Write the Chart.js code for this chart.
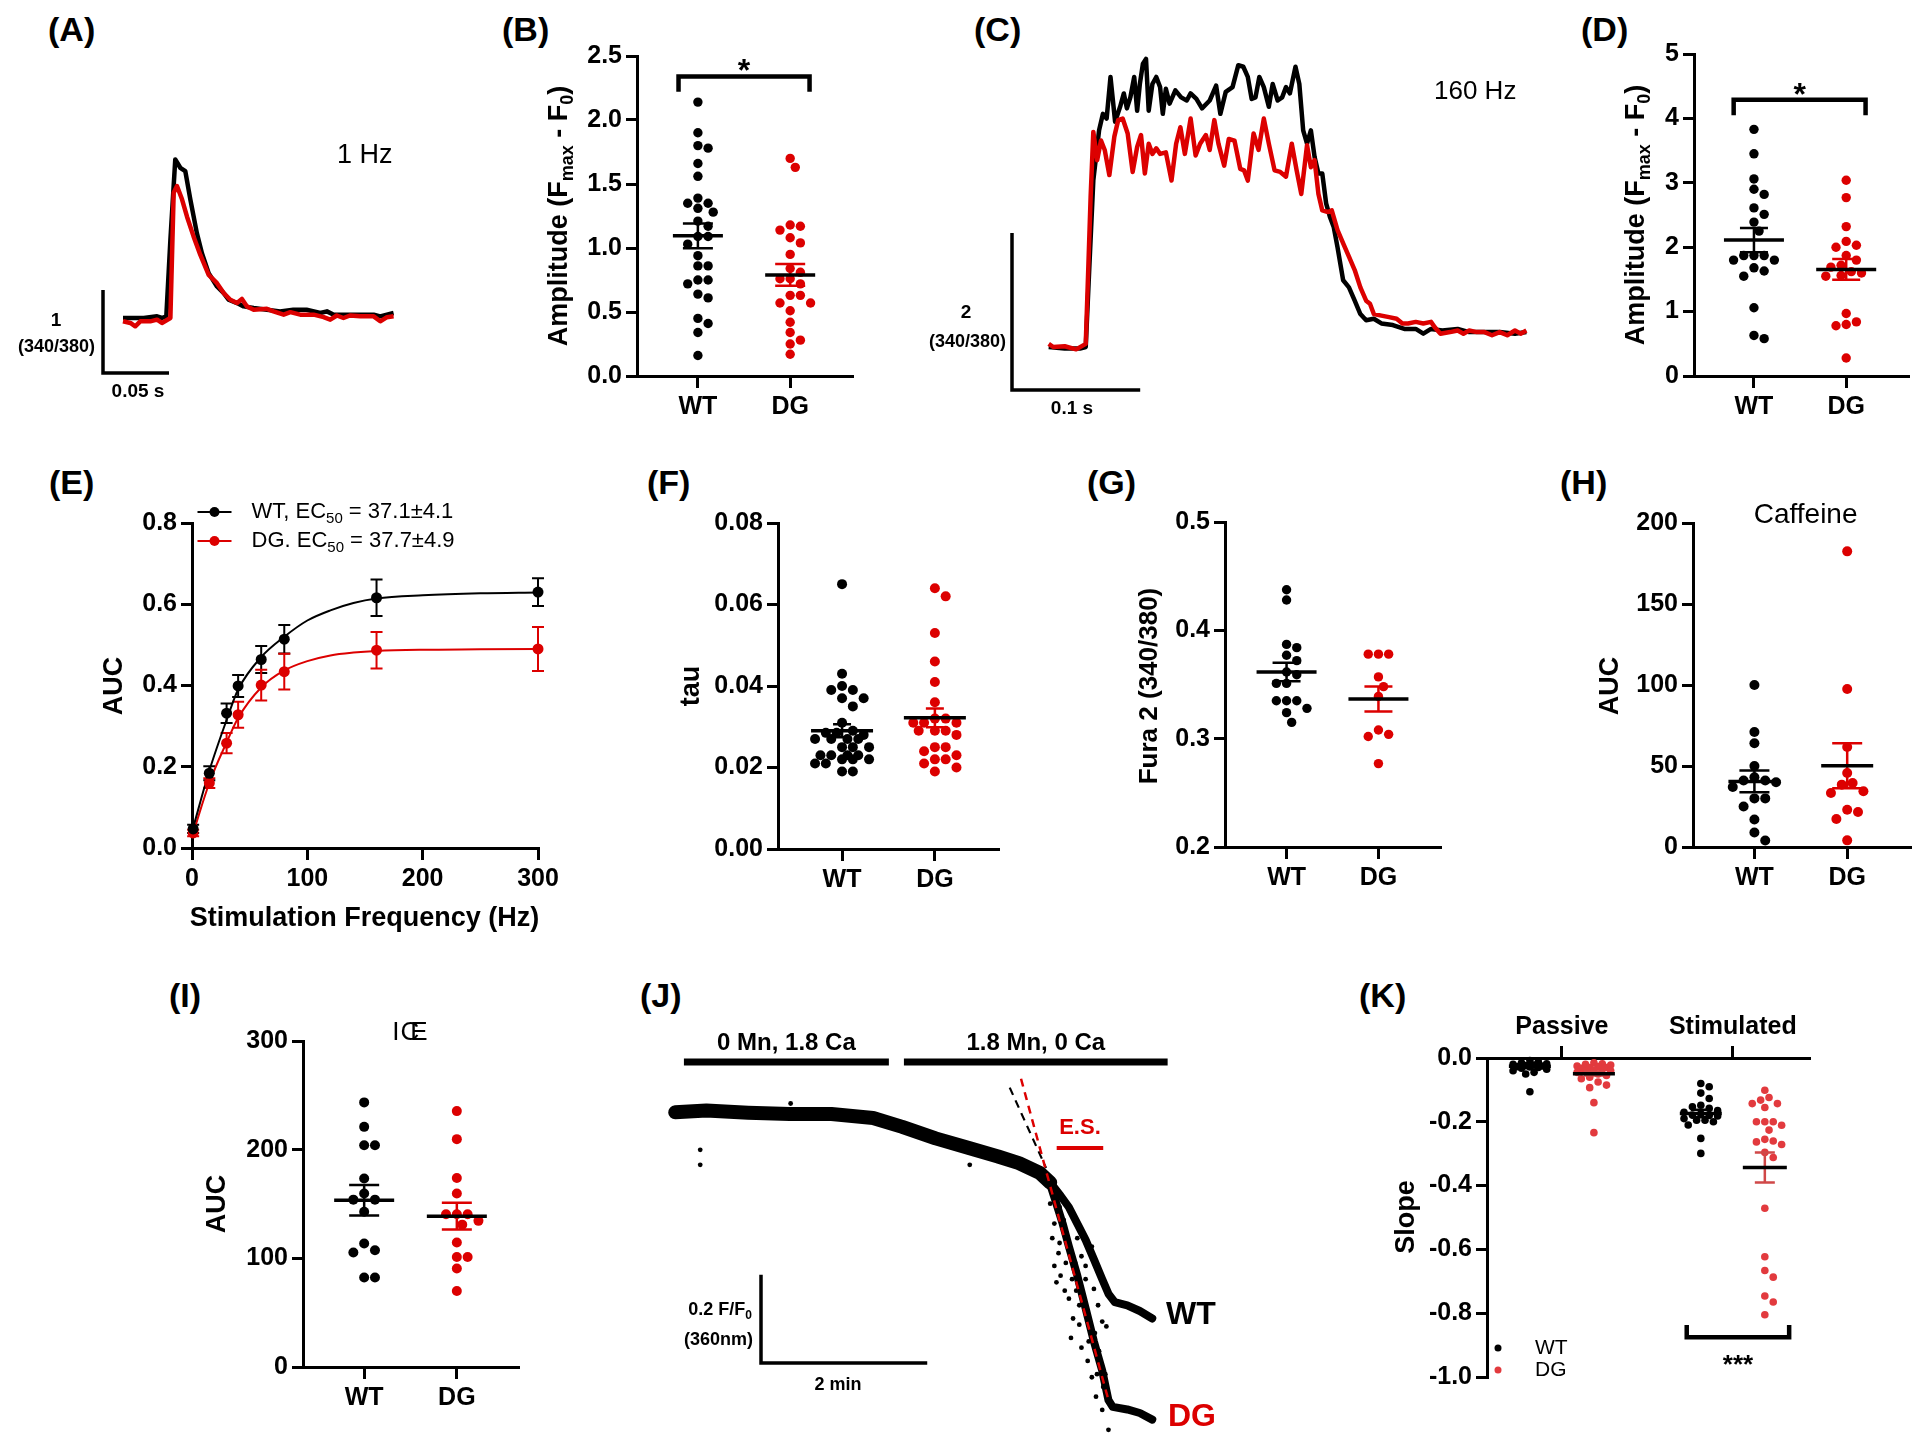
<!DOCTYPE html>
<html lang="en">
<head>
<meta charset="UTF-8">
<title>Calcium handling figure</title>
<script src="https://cdn.jsdelivr.net/npm/chart.js"></script>
<style>
  body { margin: 0; background: #fff; width: 1920px; height: 1446px; position: relative; overflow: hidden;
         font-family: "Liberation Sans", Arial, sans-serif; }
  canvas { position: absolute; }
  .lbl { position: absolute; font-weight: bold; font-size: 34px; line-height: 34px; color: #000; }
</style>
</head>
<body>
<div class="lbl" style="left:48px;top:12px">(A)</div>
<div class="lbl" style="left:502px;top:12px">(B)</div>
<div class="lbl" style="left:974px;top:12px">(C)</div>
<div class="lbl" style="left:1581px;top:12px">(D)</div>
<div class="lbl" style="left:49px;top:465px">(E)</div>
<div class="lbl" style="left:647px;top:465px">(F)</div>
<div class="lbl" style="left:1087px;top:465px">(G)</div>
<div class="lbl" style="left:1560px;top:465px">(H)</div>
<div class="lbl" style="left:169px;top:978px">(I)</div>
<div class="lbl" style="left:640px;top:978px">(J)</div>
<div class="lbl" style="left:1359px;top:978px">(K)</div>

<canvas id="cA"></canvas><canvas id="cB"></canvas><canvas id="cC"></canvas><canvas id="cD"></canvas>
<canvas id="cE"></canvas><canvas id="cF"></canvas><canvas id="cG"></canvas><canvas id="cH"></canvas>
<canvas id="cI"></canvas><canvas id="cJ"></canvas><canvas id="cK"></canvas>

<script>
// ---- data ----
// (A) 1 Hz transient, time (ms) and ratio above baseline (340/380)
const aWtT = [0,6.8,15.7,25.8,29.5,32.8,35.9,39.6,43.4,47.2,51,56,59.8,64.9,71.2,76.3,80,86.4,91.4,99,109,119,129,139,149.5,154.5,159.6,169.7,179.8,189.9,194.9,205];
const aWtV = [0,0,0,0.02,0,0.02,0.94,1.91,1.81,1.77,1.43,1.02,0.78,0.54,0.38,0.30,0.22,0.18,0.14,0.12,0.10,0.08,0.10,0.10,0.06,0.08,0.04,0.04,0.04,0.04,0.02,0.06];
const aDgT = [0,5.6,9.3,13.1,20.7,25.8,29.5,35.9,38.4,40.9,44.7,48.5,53.5,58.6,64.9,71.2,76.3,81.3,86.4,90.1,93.9,99,109,114,121.7,126.8,134.3,144.4,152,157,162,167,172,179.8,189.9,194.9,200,205];
const aDgV = [-0.04,-0.06,-0.10,-0.04,-0.04,-0.02,-0.06,0,1.51,1.59,1.43,1.22,0.98,0.76,0.52,0.42,0.30,0.22,0.18,0.23,0.14,0.10,0.11,0.08,0.04,0.07,0.04,0.04,0.01,-0.02,0.03,0,0.03,0.02,0.02,-0.04,0.01,0.02];
const aScale = {t: 50, v: 1};

// (B) amplitude at 1 Hz
const bWT = [2.14,1.90,1.80,1.78,1.66,1.56,1.39,1.35,1.35,1.31,1.28,1.21,1.17,1.09,1.09,1.03,0.94,0.86,0.86,0.75,0.75,0.72,0.64,0.61,0.45,0.41,0.34,0.16];
const bDG = [1.70,1.63,1.18,1.17,1.14,1.08,1.04,0.95,0.84,0.81,0.76,0.76,0.72,0.63,0.63,0.57,0.57,0.51,0.42,0.34,0.28,0.25,0.17];
const bMean = [1.095, 0.79], bSem = [0.097, 0.085];

// (C) 160 Hz transient
const cWtT = [0,12.5,24.4,28.9,31.8,34.8,39.3,42.3,45.2,48.2,51.8,55.7,58.6,61.0,63.7,66.7,69.0,71.1,73.5,75.9,78.0,80.9,83.9,86.9,89.0,91.4,94.3,98.8,103.3,107.7,110.7,115.2,119.6,125.6,130.6,133.9,138.1,143.4,147.9,151.8,155.3,158.3,161.3,164.3,167.8,171.7,174.7,178.6,182.1,185.1,188.1,192.5,195.5,198.5,201.5,204.5,207.4,210.4,213.4,216.4,219.3,222.3,225.3,229.7,234.2,238.7,243.1,247.6,253.6,259.5,268.4,277.4,286.3,292.2,298.2,307.1,319.0,328.0,339.9,351.8,363.7,372.6];
const cWtV = [0,-0.02,-0.02,0,1.06,2.12,2.76,2.97,2.91,3.44,2.87,3.06,3.23,3.04,3.18,3.44,3.01,3.35,3.61,3.67,3.01,3.35,3.44,3.31,2.97,3.29,3.10,3.27,3.18,3.14,3.23,3.16,3.04,3.14,3.33,2.97,3.25,3.31,3.59,3.57,3.44,3.16,3.18,3.44,3.31,3.06,3.35,3.14,3.18,3.31,3.23,3.57,3.35,2.76,2.59,2.76,2.42,2.21,2.21,1.83,1.66,1.53,1.27,0.85,0.76,0.59,0.42,0.34,0.36,0.30,0.28,0.23,0.23,0.17,0.23,0.21,0.23,0.19,0.19,0.19,0.17,0.19];
const cDgT = [0,3.6,12.5,21.4,28.9,31.0,32.7,34.8,37.8,40.8,43.7,47.3,51.2,54.2,57.7,61.6,65.5,69.0,72.0,75.0,78.0,80.9,83.9,86.9,91.4,95.8,99.4,102.7,106.2,110.7,114.6,118.1,122.6,125.6,129.2,132.4,136.9,140.5,144.9,149.4,152.4,155.3,159.8,163.7,167.8,171.7,176.2,180.6,185.1,189.6,193.4,197.0,201.5,204.5,207.4,210.4,213.4,217.8,220.8,225.3,229.7,234.2,238.7,243.1,247.6,250.6,253.6,259.5,265.5,271.4,275.9,280.3,286.3,292.2,298.2,301.2,305.6,313.1,319.0,323.5,328.0,333.9,339.9,345.8,351.8,357.7,363.7,368.1,372.6];
const cDgV = [0.04,0,0.01,-0.03,0.04,1.06,1.91,2.74,2.38,2.63,2.51,2.19,2.68,2.89,2.91,2.72,2.23,2.55,2.70,2.21,2.59,2.46,2.53,2.46,2.48,2.12,2.59,2.80,2.46,2.91,2.44,2.59,2.70,2.51,2.89,2.59,2.31,2.65,2.63,2.27,2.25,2.12,2.72,2.51,2.91,2.59,2.25,2.23,2.17,2.59,2.25,1.95,2.57,2.29,2.38,1.95,1.74,1.72,1.74,1.49,1.32,1.15,0.98,0.76,0.59,0.55,0.42,0.40,0.38,0.36,0.30,0.30,0.32,0.30,0.32,0.25,0.17,0.19,0.21,0.17,0.21,0.19,0.19,0.15,0.19,0.15,0.21,0.17,0.21];
const cScale = {t: 100, v: 2};

// (D) amplitude at 160 Hz
const dWT = [3.83,3.45,3.06,2.90,2.82,2.61,2.51,2.39,2.25,1.87,1.87,1.87,1.80,1.80,1.68,1.63,1.55,1.06,0.63,0.58];
const dDG = [3.04,2.77,2.32,2.09,2.03,2.00,1.87,1.80,1.72,1.69,1.62,1.60,1.56,1.55,0.97,0.84,0.80,0.78,0.28];
const dMean = [2.11, 1.655], dSem = [0.19, 0.16];

// (E) AUC vs stimulation frequency
const eFreq = [1,15,30,40,60,80,160,300];
const eWT = [0.047,0.184,0.332,0.399,0.464,0.514,0.616,0.630];
const eWTerr = [0.010,0.017,0.024,0.027,0.033,0.035,0.045,0.034];
const eDG = [0.037,0.160,0.258,0.328,0.401,0.434,0.487,0.490];
const eDGerr = [0.008,0.012,0.025,0.032,0.038,0.044,0.045,0.054];
const eFitFreq = [1,15,30,40,60,80,100,120,140,160,200,250,300];
const eFitWT = [0.05,0.19,0.315,0.39,0.47,0.52,0.56,0.585,0.603,0.614,0.622,0.627,0.629];
const eFitDG = [0.037,0.16,0.26,0.32,0.395,0.437,0.46,0.474,0.481,0.485,0.488,0.489,0.49];

// (F) tau
const fWT = [0.065,0.043,0.040,0.039,0.039,0.037,0.037,0.035,0.031,0.029,0.0285,0.0285,0.028,0.027,0.027,0.027,0.027,0.025,0.025,0.025,0.023,0.023,0.023,0.023,0.022,0.022,0.022,0.021,0.021,0.019,0.019];
const fDG = [0.064,0.062,0.053,0.046,0.041,0.036,0.032,0.032,0.031,0.031,0.031,0.029,0.029,0.029,0.028,0.025,0.025,0.024,0.023,0.022,0.022,0.021,0.020,0.019];
const fMean = [0.029, 0.0322], fSem = [0.0016, 0.0023];

// (G) resting Fura 2
const gWT = [0.4375,0.428,0.387,0.384,0.377,0.372,0.3615,0.359,0.351,0.351,0.335,0.335,0.335,0.328,0.324,0.315];
const gDG = [0.378,0.378,0.378,0.357,0.348,0.339,0.308,0.304,0.302,0.277];
const gMean = [0.3615, 0.3366], gSem = [0.0085, 0.0115];

// (H) caffeine AUC
const hWT = [100,71,64,50,43,41,41,40,37,30,30,25,17,9,4];
const hDG = [182.5,97.5,61.7,45.7,39.5,38.5,34.4,33.3,23.0,21.6,17.3,4.1];
const hMean = [40.5, 50.2], hSem = [6.7, 13.9];

// (I) ICE AUC
const iWT = [243.5,221,204,204,173.5,159.6,154,154,142.8,113.6,107.5,105.3,82.3,82.3];
const iDG = [235.5,209.7,174,159.6,140.6,140.6,140.6,134.5,131,114.5,101.3,101.3,90.6,70];
const iMean = [153.5, 138.8], iSem = [14, 12.3];

// (J) Mn quench trace, time (min) and F/F0 (360 nm)
const jBaseT = [0,0.376,0.877,1.379,1.880,2.381,2.732,3.133,3.534,3.885,4.136,4.386,4.512];
const jBaseF = [1.000,1.004,0.999,0.996,0.996,0.987,0.967,0.941,0.919,0.900,0.885,0.863,0.841];
const jWtT = [4.512,4.637,4.737,4.838,4.938,5.038,5.138,5.213,5.289,5.439,5.590,5.740];
const jWtF = [0.841,0.811,0.785,0.748,0.711,0.667,0.622,0.589,0.570,0.563,0.550,0.533];
const jDgT = [4.512,4.587,4.662,4.737,4.838,4.938,5.038,5.138,5.213,5.264,5.439,5.590,5.740];
const jDgF = [0.837,0.793,0.748,0.696,0.630,0.556,0.481,0.415,0.348,0.333,0.327,0.319,0.304];
const jDotT = [0.301,0.301,1.389,3.544,4.512,4.562,4.537,4.612,4.562,4.637,4.587,4.687,4.737,4.787,4.862,4.762,4.888,4.963,5.013,5.063,5.138,5.213,5.013,4.938,4.888,5.038,5.088,5.138,5.188,4.838,4.938,4.812,4.862,
               4.625,4.675,4.625,4.700,4.775,4.825,4.900,4.975,5.050,5.100,5.175,5.150,5.225,4.975,5.075];
const jDotF = [0.915,0.881,1.020,0.881,0.793,0.748,0.715,0.681,0.652,0.630,0.615,0.596,0.578,0.533,0.519,0.489,0.467,0.437,0.400,0.356,0.326,0.281,0.696,0.652,0.674,0.600,0.563,0.526,0.515,0.715,0.622,0.659,0.563,
               0.785,0.756,0.704,0.659,0.622,0.596,0.578,0.537,0.500,0.459,0.407,0.378,0.341,0.481,0.407];
const jFitWtT = [4.025, 4.462], jFitWtF = [1.056, 0.874];
const jFitDgT = [4.161, 5.213], jFitDgF = [1.076, 0.348];
const jProtoLabels = ['0 Mn, 1.8 Ca', '1.8 Mn, 0 Ca'];
const jProtoStart = [0.105, 2.752], jProtoEnd = [2.571, 5.925];
const jEsStart = 4.59, jEsEnd = 5.15;
const jScale = {t: 2, v: 0.2};

// (K) quench slope
const kGroups = ['Passive', 'Stimulated'];
const kPassWT = [-0.008,-0.012,-0.015,-0.018,-0.02,-0.022,-0.024,-0.025,-0.027,-0.028,-0.03,-0.032,-0.035,-0.04,-0.045,-0.05,-0.106];
const kPassDG = [-0.015,-0.018,-0.02,-0.022,-0.025,-0.027,-0.03,-0.03,-0.032,-0.035,-0.038,-0.04,-0.042,-0.045,-0.05,-0.055,-0.06,-0.065,-0.075,-0.085,-0.093,-0.14,-0.234];
const kStimWT = [-0.08,-0.09,-0.11,-0.127,-0.148,-0.153,-0.158,-0.165,-0.17,-0.175,-0.179,-0.18,-0.182,-0.19,-0.195,-0.195,-0.2,-0.21,-0.252,-0.299];
const kStimDG = [-0.101,-0.124,-0.132,-0.143,-0.143,-0.155,-0.2,-0.2,-0.2,-0.211,-0.226,-0.255,-0.26,-0.263,-0.271,-0.296,-0.312,-0.471,-0.623,-0.666,-0.687,-0.746,-0.765,-0.805];
const kMean = [-0.026, -0.049, -0.174, -0.343], kSem = [0.004, 0.006, 0.012, 0.047];

const cats = ['WT', 'DG'];

// ---- drawing ----
const FONT = '"Liberation Sans", Arial, Helvetica, sans-serif';
const BLK = '#000000', RED = '#dc0000', KRED = '#e23a3e';
const TICK = 25, TITLE = 27;
Chart.defaults.font.family = FONT;
Chart.defaults.color = '#000';

function rich(ctx, segs, x, y, size, weight, align, color, rot) {
  const fnt = sub => `${weight} ${sub ? Math.round(size * 0.68) : size}px ${FONT}`;
  let total = 0;
  segs.forEach(s => { ctx.font = fnt(s[1]); total += ctx.measureText(s[0]).width + (s[2] || 0); });
  ctx.save();
  ctx.translate(x, y);
  if (rot) ctx.rotate(-Math.PI / 2);
  let cx = align === 'center' ? -total / 2 : align === 'right' ? -total : 0;
  ctx.fillStyle = color; ctx.textAlign = 'left'; ctx.textBaseline = 'middle';
  segs.forEach(s => {
    ctx.font = fnt(s[1]);
    ctx.fillText(s[0], cx, s[1] ? size * 0.3 : 0);
    cx += ctx.measureText(s[0]).width + (s[2] || 0);
  });
  ctx.restore();
}

const annot = {
  id: 'annot',
  beforeDatasetsDraw(chart, a, o) {
    const ctx = chart.ctx, X = chart.scales.x, Y = chart.scales.y;
    (o.errbars || []).forEach(e => {
      ctx.save(); ctx.strokeStyle = e.color; ctx.lineWidth = e.w;
      e.x.forEach((xv, i) => {
        const px = X.getPixelForValue(xv), t = Y.getPixelForValue(e.y[i] + e.err[i]), b = Y.getPixelForValue(e.y[i] - e.err[i]);
        ctx.beginPath();
        ctx.moveTo(px, t); ctx.lineTo(px, b);
        ctx.moveTo(px - e.cap, t); ctx.lineTo(px + e.cap, t);
        ctx.moveTo(px - e.cap, b); ctx.lineTo(px + e.cap, b);
        ctx.stroke();
      });
      ctx.restore();
    });
  },
  afterDatasetsDraw(chart, a, o) {
    const ctx = chart.ctx, X = chart.scales.x, Y = chart.scales.y, ox = o.ox || 0, oy = o.oy || 0;
    ctx.save();
    ctx.lineCap = 'butt';
    (o.means || []).forEach(g => {
      const cx = X.getPixelForValue(g.x), ym = Y.getPixelForValue(g.mean);
      const yt = Y.getPixelForValue(g.mean + g.sem), yb = Y.getPixelForValue(g.mean - g.sem);
      ctx.strokeStyle = g.semColor; ctx.lineWidth = 2.5;
      ctx.beginPath();
      ctx.moveTo(cx, yt); ctx.lineTo(cx, yb);
      ctx.moveTo(cx - g.cap, yt); ctx.lineTo(cx + g.cap, yt);
      ctx.moveTo(cx - g.cap, yb); ctx.lineTo(cx + g.cap, yb);
      ctx.stroke();
      ctx.strokeStyle = BLK; ctx.lineWidth = 3.5;
      ctx.beginPath(); ctx.moveTo(cx - g.half, ym); ctx.lineTo(cx + g.half, ym); ctx.stroke();
    });
    if (o.bracket) {
      const b = o.bracket;
      const x0 = X.getPixelForValue(b.x0), x1 = X.getPixelForValue(b.x1);
      const y = Y.getPixelForValue(b.y), yl = Y.getPixelForValue(b.leg);
      ctx.strokeStyle = BLK; ctx.lineWidth = b.w; ctx.lineJoin = 'miter';
      ctx.beginPath(); ctx.moveTo(x0, yl); ctx.lineTo(x0, y); ctx.lineTo(x1, y); ctx.lineTo(x1, yl); ctx.stroke();
      ctx.fillStyle = BLK; ctx.font = `bold ${b.size}px ${FONT}`;
      ctx.textAlign = 'center'; ctx.textBaseline = 'alphabetic';
      ctx.fillText(b.star, (x0 + x1) / 2, Y.getPixelForValue(b.starY) + 0.58 * b.size);
    }
    (o.scalebars || []).forEach(s => {
      const x = s.x - ox, y = s.y - oy;
      const dx = X.getPixelForValue(s.dt) - X.getPixelForValue(0);
      const dy = Y.getPixelForValue(0) - Y.getPixelForValue(s.dv);
      ctx.strokeStyle = BLK; ctx.lineWidth = s.w; ctx.lineJoin = 'miter';
      ctx.beginPath(); ctx.moveTo(x, y - dy); ctx.lineTo(x, y); ctx.lineTo(x + dx, y); ctx.stroke();
    });
    (o.hbars || []).forEach(h => {
      const x0 = X.getPixelForValue(h.t0), x1 = X.getPixelForValue(h.t1), y = h.y - oy;
      ctx.strokeStyle = h.color; ctx.lineWidth = h.w;
      ctx.beginPath(); ctx.moveTo(x0, y); ctx.lineTo(x1, y); ctx.stroke();
      if (h.label) rich(ctx, [[h.label]], (x0 + x1) / 2, h.ly - oy, h.size, 'bold', 'center', h.color);
    });
    (o.legend || []).forEach(l => {
      const x = l.x - ox, y = l.y - oy;
      if (l.line) {
        ctx.strokeStyle = l.color; ctx.lineWidth = 2;
        ctx.beginPath(); ctx.moveTo(x - 17, y); ctx.lineTo(x + 17, y); ctx.stroke();
      }
      ctx.fillStyle = l.color;
      ctx.beginPath(); ctx.arc(x, y, l.r, 0, 2 * Math.PI); ctx.fill();
      rich(ctx, l.segs, x + l.gap, y, l.size, 'normal', 'left', BLK);
    });
    (o.texts || []).forEach(t => rich(ctx, t.segs, t.x - ox, t.y - oy, t.size, t.weight || 'bold', t.align || 'left', t.color || BLK, t.rot));
    ctx.restore();
  }
};
Chart.register(annot);

const GRID = {drawOnChartArea: false, drawTicks: true, tickLength: 11, tickWidth: 3, tickColor: BLK, lineWidth: 3, color: BLK};
const BORDER = {display: true, color: BLK, width: 3};

function mk(id, box, m, cfg, topAxis) {
  const c = document.getElementById(id);
  const W = Math.round(box.x1 - box.x0 + m.l + m.r), H = Math.round(box.y1 - box.y0 + m.t + m.b);
  c.width = W; c.height = H;
  Object.assign(c.style, {left: (box.x0 - m.l) + 'px', top: (box.y0 - m.t) + 'px', width: W + 'px', height: H + 'px'});
  cfg.options = Object.assign({
    responsive: false, animation: false, events: [],
    layout: {padding: topAxis ? {top: 0, right: m.r, bottom: m.b, left: 0} : {top: m.t, right: m.r, bottom: 0, left: 0}}
  }, cfg.options);
  const p = cfg.options.plugins = Object.assign({legend: {display: false}, tooltip: {enabled: false}}, cfg.options.plugins);
  p.annot = Object.assign({ox: box.x0 - m.l, oy: box.y0 - m.t}, p.annot);
  return new Chart(c, cfg);
}

function yLin(min, max, step, fmt, w) {
  return {type: 'linear', position: 'left', min, max,
    afterFit: s => { s.width = w; },
    ticks: {stepSize: step, font: {size: TICK, weight: 'bold'}, color: BLK, padding: 4, callback: v => fmt(v)},
    grid: GRID, border: BORDER};
}
function xLin(min, max, step, fmt, h) {
  return {type: 'linear', position: 'bottom', min, max,
    afterFit: s => { s.height = h; },
    ticks: {stepSize: step, font: {size: TICK, weight: 'bold'}, color: BLK, padding: 4, maxRotation: 0, callback: v => fmt(v)},
    grid: Object.assign({}, GRID, {tickLength: 12}), border: BORDER};
}
function xCat(min, max, pos, labels, h, position) {
  return {type: 'linear', position, min, max,
    afterFit: s => { s.height = h; },
    afterBuildTicks: s => { s.ticks = pos.map(v => ({value: v})); },
    ticks: {font: {size: TICK, weight: 'bold'}, color: BLK, padding: 4, autoSkip: false, maxRotation: 0, callback: (v, i) => labels[i]},
    grid: Object.assign({}, GRID, {tickLength: 12}), border: BORDER};
}
const hidden = (min, max) => ({type: 'linear', display: false, min, max});

// beeswarm placement of dots, computed from the values
function swarm(vals, center, box, ymin, ymax, xmin, xmax, diam, maxOff) {
  const py = (box.y1 - box.y0) / (ymax - ymin), px = (box.x1 - box.x0) / (xmax - xmin);
  const order = vals.map((v, i) => i).sort((a, b) => vals[b] - vals[a]);
  const placed = [], xs = new Array(vals.length);
  order.forEach(i => {
    const y = vals[i] * py;
    let best = 0, bestD = -1;
    for (let k = 0; k <= 60; k++) {
      const off = (k % 2 ? 1 : -1) * Math.ceil(k / 2) * diam * 0.5;
      if (Math.abs(off) > maxOff) continue;
      let dmin = Infinity;
      placed.forEach(p => { dmin = Math.min(dmin, Math.hypot(p.x - off, p.y - y)); });
      if (dmin >= diam) { best = off; break; }
      if (dmin > bestD) { bestD = dmin; best = off; }
    }
    placed.push({x: best, y});
    xs[i] = center + best / px;
  });
  return xs;
}

function dots(id, P) {
  const ds = P.groups.map((g, k) => {
    const xs = swarm(g.vals, P.pos[k], P.box, P.y[0], P.y[1], P.x[0], P.x[1], 2 * g.r + 0.8, g.spread);
    return {data: g.vals.map((v, i) => ({x: xs[i], y: v})), pointRadius: g.r,
            pointBackgroundColor: g.color, pointBorderWidth: 0, clip: false};
  });
  return mk(id, P.box, P.m, {
    type: 'scatter', data: {datasets: ds},
    options: {
      scales: {
        x: xCat(P.x[0], P.x[1], P.ticks || P.pos, P.labels, P.top ? P.m.t : P.m.b, P.top ? 'top' : 'bottom'),
        y: yLin(P.y[0], P.y[1], P.y[2], P.fmt, P.m.l)
      },
      plugins: {annot: Object.assign({
        means: P.groups.map((g, k) => ({x: P.pos[k], mean: g.mean, sem: g.sem, semColor: g.semColor, half: g.half, cap: g.cap}))
      }, P.annot)}
    }
  }, P.top);
}
const pts = (xs, ys) => xs.map((x, i) => ({x, y: ys[i]}));
const trace = (xs, ys, color, w, extra) => Object.assign({data: pts(xs, ys), showLine: true, pointRadius: 0,
  borderColor: color, borderWidth: w, borderJoinStyle: 'round', clip: false}, extra || {});
const amp = [['Amplitude (F'], ['max', 1], [' - F'], ['0', 1], [')']];
const M = {l: 125, r: 30, t: 45, b: 60};
const f1 = v => v.toFixed(1), f2 = v => v.toFixed(2), f0 = v => String(Math.round(v));

// (A)
mk('cA', {x0: 0, x1: 420, y0: 120, y1: 420}, {l: 0, r: 0, t: 0, b: 0}, {
  type: 'scatter',
  data: {datasets: [trace(aDgT, aDgV, RED, 4.5), trace(aWtT, aWtV, BLK, 4.5)]},
  options: {
    scales: {x: hidden((0 - 123) / 1.32, (420 - 123) / 1.32), y: hidden(-(420 - 318) / 83, (318 - 120) / 83)},
    plugins: {annot: {
      scalebars: [{x: 103, y: 373, dt: aScale.t, dv: aScale.v, w: 3.5}],
      texts: [
        {segs: [['1']], x: 56, y: 321, size: 19, align: 'center'},
        {segs: [['(340/380)']], x: 95, y: 347, size: 18, align: 'right'},
        {segs: [['0.05 s']], x: 138, y: 392, size: 19, align: 'center'},
        {segs: [['1 Hz']], x: 337, y: 156, size: 27, weight: 'normal'}
      ]}}
  }
});

// (B)
dots('cB', {box: {x0: 637, x1: 852, y0: 56, y1: 376}, m: M, x: [0.34, 2.67], pos: [1, 2], labels: cats,
  y: [0, 2.5, 0.5], fmt: f1,
  groups: [
    {vals: bWT, color: BLK, r: 4.7, spread: 26, mean: bMean[0], sem: bSem[0], semColor: BLK, half: 25, cap: 15},
    {vals: bDG, color: RED, r: 4.7, spread: 26, mean: bMean[1], sem: bSem[1], semColor: RED, half: 25, cap: 15}],
  annot: {bracket: {x0: 0.79, x1: 2.21, y: 2.34, leg: 2.22, star: '*', starY: 2.45, size: 32, w: 4.5},
          texts: [{segs: amp, x: 560, y: 216, size: TITLE, align: 'center', rot: true}]}
});

// (C)
mk('cC', {x0: 900, x1: 1560, y0: 40, y1: 430}, {l: 0, r: 0, t: 0, b: 0}, {
  type: 'scatter',
  data: {datasets: [trace(cDgT, cDgV, RED, 4.5), trace(cWtT, cWtV, BLK, 4.5)]},
  options: {
    scales: {x: hidden((900 - 1048.7) / 1.282, (1560 - 1048.7) / 1.282), y: hidden(-(430 - 347) / 78.5, (347 - 40) / 78.5)},
    plugins: {annot: {
      scalebars: [{x: 1012, y: 390, dt: cScale.t, dv: cScale.v, w: 3.5}],
      texts: [
        {segs: [['2']], x: 966, y: 313, size: 19, align: 'center'},
        {segs: [['(340/380)']], x: 1006, y: 342, size: 18, align: 'right'},
        {segs: [['0.1 s']], x: 1072, y: 409, size: 19, align: 'center'},
        {segs: [['160 Hz']], x: 1434, y: 92, size: 26, weight: 'normal'}
      ]}}
  }
});

// (D)
dots('cD', {box: {x0: 1694, x1: 1908, y0: 54, y1: 376}, m: M, x: [0.35, 2.67], pos: [1, 2], labels: cats,
  y: [0, 5, 1], fmt: f0,
  groups: [
    {vals: dWT, color: BLK, r: 4.7, spread: 26, mean: dMean[0], sem: dSem[0], semColor: BLK, half: 30, cap: 14},
    {vals: dDG, color: RED, r: 4.7, spread: 26, mean: dMean[1], sem: dSem[1], semColor: RED, half: 30, cap: 14}],
  annot: {bracket: {x0: 0.78, x1: 2.21, y: 4.29, leg: 4.05, star: '*', starY: 4.49, size: 32, w: 4.5},
          texts: [{segs: amp, x: 1637, y: 215, size: TITLE, align: 'center', rot: true}]}
});

// (E)
mk('cE', {x0: 191.5, x1: 537.6, y0: 523, y1: 848}, {l: 125, r: 40, t: 60, b: 100}, {
  type: 'scatter',
  data: {datasets: [
    {data: pts(eFreq, eWT), pointRadius: 5.5, pointBackgroundColor: BLK, pointBorderWidth: 0, clip: false},
    {data: pts(eFreq, eDG), pointRadius: 5.5, pointBackgroundColor: RED, pointBorderWidth: 0, clip: false},
    trace(eFitFreq, eFitWT, BLK, 2, {cubicInterpolationMode: 'monotone'}),
    trace(eFitFreq, eFitDG, RED, 2, {cubicInterpolationMode: 'monotone'})
  ]},
  options: {
    scales: {x: xLin(0, 300, 100, f0, 100), y: yLin(0, 0.8, 0.2, f1, 125)},
    plugins: {annot: {
      errbars: [{x: eFreq, y: eWT, err: eWTerr, color: BLK, cap: 6, w: 2},
                {x: eFreq, y: eDG, err: eDGerr, color: RED, cap: 6, w: 2}],
      legend: [
        {x: 214, y: 512, color: BLK, r: 5, line: true, gap: 37, size: 22, segs: [['WT, EC'], ['50', 1], [' = 37.1±4.1']]},
        {x: 214, y: 541, color: RED, r: 5, line: true, gap: 37, size: 22, segs: [['DG. EC'], ['50', 1], [' = 37.7±4.9']]}],
      texts: [
        {segs: [['AUC']], x: 114, y: 686, size: TITLE, align: 'center', rot: true},
        {segs: [['Stimulation Frequency (Hz)']], x: 364, y: 919, size: TITLE, align: 'center'}
      ]}}
  }
});

// (F)
dots('cF', {box: {x0: 778, x1: 998, y0: 523, y1: 849}, m: M, x: [0.31, 2.68], pos: [1, 2], labels: cats,
  y: [0, 0.08, 0.02], fmt: f2,
  groups: [
    {vals: fWT, color: BLK, r: 5, spread: 28, mean: fMean[0], sem: fSem[0], semColor: BLK, half: 31, cap: 9},
    {vals: fDG, color: RED, r: 5, spread: 28, mean: fMean[1], sem: fSem[1], semColor: RED, half: 31, cap: 9}],
  annot: {texts: [{segs: [['tau']], x: 692, y: 686, size: TITLE, align: 'center', rot: true}]}
});

// (G)
dots('cG', {box: {x0: 1225, x1: 1440, y0: 522, y1: 847}, m: M, x: [0.33, 2.67], pos: [1, 2], labels: cats,
  y: [0.2, 0.5, 0.1], fmt: f1,
  groups: [
    {vals: gWT, color: BLK, r: 4.7, spread: 27, mean: gMean[0], sem: gSem[0], semColor: BLK, half: 30, cap: 14},
    {vals: gDG, color: RED, r: 4.7, spread: 27, mean: gMean[1], sem: gSem[1], semColor: RED, half: 30, cap: 14}],
  annot: {texts: [{segs: [['Fura 2 (340/380)']], x: 1150, y: 686, size: 26, align: 'center', rot: true}]}
});

// (H)
dots('cH', {box: {x0: 1693.4, x1: 1910, y0: 523, y1: 847}, m: M, x: [0.338, 2.677], pos: [1, 2], labels: cats,
  y: [0, 200, 50], fmt: f0,
  groups: [
    {vals: hWT, color: BLK, r: 5, spread: 26, mean: hMean[0], sem: hSem[0], semColor: BLK, half: 26, cap: 15},
    {vals: hDG, color: RED, r: 5, spread: 26, mean: hMean[1], sem: hSem[1], semColor: RED, half: 26, cap: 15}],
  annot: {texts: [
    {segs: [['AUC']], x: 1611, y: 686, size: TITLE, align: 'center', rot: true},
    {segs: [['Caffeine']], x: 1806, y: 515, size: 28, weight: 'normal', align: 'center'}]}
});

// (I)
dots('cI', {box: {x0: 303, x1: 518, y0: 1041, y1: 1367}, m: M, x: [0.34, 2.66], pos: [1, 2], labels: cats,
  y: [0, 300, 100], fmt: f0,
  groups: [
    {vals: iWT, color: BLK, r: 5, spread: 22, mean: iMean[0], sem: iSem[0], semColor: BLK, half: 30, cap: 15},
    {vals: iDG, color: RED, r: 5, spread: 26, mean: iMean[1], sem: iSem[1], semColor: RED, half: 30, cap: 15}],
  annot: {texts: [
    {segs: [['AUC']], x: 218, y: 1204, size: TITLE, align: 'center', rot: true},
    {segs: [['I', 0, 1], ['C', 0, -9], ['E']], x: 410, y: 1033, size: 26, weight: 'normal', align: 'center'}]}
});

// (J)
mk('cJ', {x0: 640, x1: 1260, y0: 1020, y1: 1446}, {l: 0, r: 0, t: 0, b: 0}, {
  type: 'scatter',
  data: {datasets: [
    trace(jFitDgT, jFitDgF, RED, 2.5, {borderDash: [8, 6]}),
    trace(jFitWtT, jFitWtF, BLK, 2.2, {borderDash: [8, 6]}),
    {data: pts(jDotT, jDotF), pointRadius: 2.4, pointBackgroundColor: BLK, pointBorderWidth: 0, clip: false},
    trace(jWtT, jWtF, BLK, 8, {borderCapStyle: 'round'}),
    trace(jDgT, jDgF, BLK, 8, {borderCapStyle: 'round'}),
    trace(jBaseT, jBaseF, BLK, 14, {borderCapStyle: 'round'})
  ]},
  options: {
    scales: {x: hidden((640 - 671.6) / 84.2, (1260 - 671.6) / 84.2), y: hidden(1 - (1446 - 1110) / 450, 1 + (1110 - 1020) / 450)},
    plugins: {annot: {
      hbars: [
        {t0: jProtoStart[0], t1: jProtoEnd[0], y: 1062, w: 7, color: BLK, label: jProtoLabels[0], ly: 1043, size: 24},
        {t0: jProtoStart[1], t1: jProtoEnd[1], y: 1062, w: 7, color: BLK, label: jProtoLabels[1], ly: 1043, size: 24},
        {t0: jEsStart, t1: jEsEnd, y: 1148, w: 4, color: RED, label: 'E.S.', ly: 1128, size: 22}],
      scalebars: [{x: 761, y: 1363, dt: jScale.t, dv: jScale.v, w: 3.5}],
      texts: [
        {segs: [['0.2 F/F'], ['0', 1]], x: 752, y: 1310, size: 18, align: 'right'},
        {segs: [['(360nm)']], x: 753, y: 1340, size: 18, align: 'right'},
        {segs: [['2 min']], x: 838, y: 1385, size: 18, align: 'center'},
        {segs: [['WT']], x: 1166, y: 1315, size: 32},
        {segs: [['DG']], x: 1168, y: 1417, size: 32, color: RED}
      ]}}
  }
});

// (K)
dots('cK', {box: {x0: 1487, x1: 1809, y0: 1058, y1: 1377}, m: {l: 125, r: 30, t: 60, b: 40}, top: true,
  x: [0.33, 5.36], pos: [1, 2, 3.67, 4.67], ticks: [1.5, 4.17], labels: kGroups,
  y: [-1, 0, 0.2], fmt: v => (Math.abs(v) < 1e-9 ? '0.0' : v.toFixed(1)),
  groups: [
    {vals: kPassWT, color: BLK, r: 3.8, spread: 20, mean: kMean[0], sem: kSem[0], semColor: BLK, half: 21, cap: 10},
    {vals: kPassDG, color: KRED, r: 3.8, spread: 20, mean: kMean[1], sem: kSem[1], semColor: '#d04848', half: 21, cap: 10},
    {vals: kStimWT, color: BLK, r: 3.8, spread: 19, mean: kMean[2], sem: kSem[2], semColor: BLK, half: 21, cap: 10},
    {vals: kStimDG, color: KRED, r: 3.8, spread: 19, mean: kMean[3], sem: kSem[3], semColor: '#d04848', half: 22, cap: 10}],
  annot: {
    bracket: {x0: 3.45, x1: 5.05, y: -0.875, leg: -0.837, star: '***', starY: -0.94, size: 26, w: 4.5},
    legend: [
      {x: 1498, y: 1348, color: BLK, r: 3.5, gap: 37, size: 21, segs: [['WT']]},
      {x: 1498, y: 1370, color: KRED, r: 3.5, gap: 37, size: 21, segs: [['DG']]}],
    texts: [{segs: [['Slope']], x: 1407, y: 1217, size: TITLE, align: 'center', rot: true}]}
});
</script>
</body>
</html>
